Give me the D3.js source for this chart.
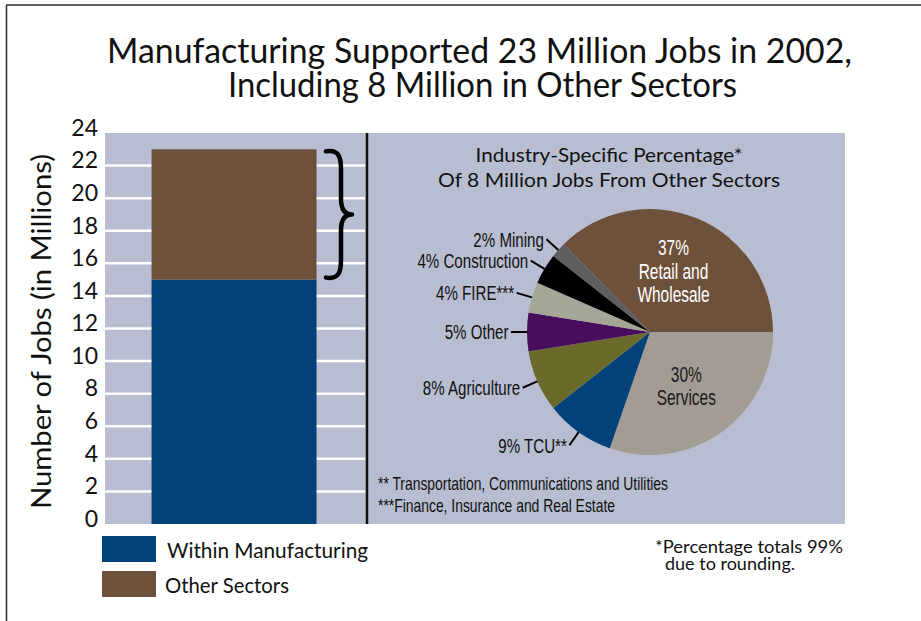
<!DOCTYPE html>
<html>
<head>
<meta charset="utf-8">
<script src="https://cdn.jsdelivr.net/npm/d3@7"></script>
<style>
  body { margin: 0; background: #fff; }
  svg { display: block; }
</style>
</head>
<body>
<svg id="chart" width="921" height="621"></svg>
<script>
// ---- Data ----
const yTicks = [0, 2, 4, 6, 8, 10, 12, 14, 16, 18, 20, 22, 24];
const barCategory = ["2002"];
const withinManufacturing = [15];   // millions of jobs
const otherSectors = [8];           // millions of jobs
const seriesNames = ["Within Manufacturing", "Other Sectors"];

// Sectors in clockwise order, starting at three o'clock
const sectorNames = ["Services", "TCU**", "Agriculture", "Other", "FIRE***", "Construction", "Mining", "Retail and Wholesale"];
const sectorPercents = [30, 9, 8, 5, 4, 4, 2, 37];
const insideSectors = ["Services", "Retail and Wholesale"];

const titleLines = ["Manufacturing Supported 23 Million Jobs in 2002,", "Including 8 Million in Other Sectors"];
const pieTitleLines = ["Industry-Specific Percentage*", "Of 8 Million Jobs From Other Sectors"];
const pieNotes = ["** Transportation, Communications and Utilities", "***Finance, Insurance and Real Estate"];
const totalNote = ["*Percentage totals 99%", "due to rounding."];

// ---- Styles ----
const seriesColors = ["#03417A", "#6E513A"];
const sectorColors = ["#A39C94", "#03417A", "#6A6A2B", "#4A0D5C", "#A4A797", "#000000", "#5E5E60", "#6E513A"];
const panelFill = "#B8BDD1";
const wideFont = "Lato, 'Open Sans', sans-serif";
const wideWeight = 400;
const narrowFont = "'Liberation Sans', Arial, sans-serif";
const narrowScale = 0.72;

const svg = d3.select("#chart");

// frame lines
svg.append("line").attr("x1", 6).attr("x2", 921).attr("y1", 5).attr("y2", 5)
  .attr("stroke", "#2a2a2a").attr("stroke-width", 1.5);
svg.append("line").attr("x1", 6.5).attr("x2", 6.5).attr("y1", 5).attr("y2", 621)
  .attr("stroke", "#2a2a2a").attr("stroke-width", 1.5);

// title
const titleStarts = [107, 228];
const titleWidths = [745, 509];
const titleBase = [63, 97];
titleLines.forEach((t, i) => {
  svg.append("text").text(t)
    .attr("x", titleStarts[i]).attr("y", titleBase[i])
    .attr("font-family", wideFont).attr("font-weight", wideWeight)
    .attr("font-size", 35).attr("fill", "#111")
    .attr("textLength", titleWidths[i]).attr("lengthAdjust", "spacingAndGlyphs");
});

// ---- Panel and scales ----
const panel = { left: 105, right: 845, top: 133, bottom: 524 };
const divX = 367;

svg.append("rect")
  .attr("x", panel.left).attr("y", panel.top)
  .attr("width", panel.right - panel.left).attr("height", panel.bottom - panel.top)
  .attr("fill", panelFill);

const y = d3.scaleLinear().domain([0, 24]).range([panel.bottom, panel.top]);
const x = d3.scaleBand().domain(barCategory)
  .range([panel.left, divX - 2]).paddingInner(0).paddingOuter(0.288).align(0.49);

// gridlines
svg.append("g").selectAll("line")
  .data(yTicks.filter(v => v > 0 && v < 24))
  .join("line")
  .attr("x1", panel.left).attr("x2", divX - 2)
  .attr("y1", d => y(d)).attr("y2", d => y(d))
  .attr("stroke", "#ffffff").attr("stroke-width", 2.5);

// stacked bar
const stackData = barCategory.map((c, i) => ({ cat: c, within: withinManufacturing[i], other: otherSectors[i] }));
const stacked = d3.stack().keys(["within", "other"])(stackData);
svg.append("g").selectAll("g")
  .data(stacked)
  .join("g")
  .attr("fill", (d, i) => seriesColors[i])
  .selectAll("rect")
  .data(d => d)
  .join("rect")
  .attr("x", d => x(d.data.cat))
  .attr("width", x.bandwidth())
  .attr("y", d => y(d[1]))
  .attr("height", d => y(d[0]) - y(d[1]));

// y axis
const gAxis = svg.append("g")
  .attr("transform", "translate(98,0)")
  .call(d3.axisLeft(y).tickValues(yTicks).tickSize(0).tickPadding(0));
gAxis.attr("font-family", null).attr("font-size", null);
gAxis.select(".domain").remove();
gAxis.selectAll("text")
  .attr("font-family", wideFont).attr("font-weight", wideWeight)
  .attr("font-size", 23).attr("fill", "#111")
  .attr("dy", "0.1em");

svg.append("text").text("Number of Jobs (in Millions)")
  .attr("transform", `translate(51,${(y(0) + y(24)) / 2 + 3}) rotate(-90)`)
  .attr("text-anchor", "middle")
  .attr("font-family", wideFont).attr("font-weight", wideWeight)
  .attr("font-size", 27).attr("fill", "#111")
  .attr("textLength", 355).attr("lengthAdjust", "spacingAndGlyphs");

// brace beside the other-sector segment
{
  const top = y(withinManufacturing[0] + otherSectors[0]) + 2;
  const bot = y(withinManufacturing[0]) - 2;
  const mid = (top + bot) / 2;
  const x0 = 326, xs = 341, xt = 352;
  const p = d3.path();
  p.moveTo(x0, top);
  p.bezierCurveTo(xs - 2, top - 2, xs, top + 6, xs, top + 18);
  p.lineTo(xs, mid - 16);
  p.bezierCurveTo(xs, mid - 6, xs + 3, mid, xt, mid);
  p.bezierCurveTo(xs + 3, mid, xs, mid + 6, xs, mid + 16);
  p.lineTo(xs, bot - 18);
  p.bezierCurveTo(xs, bot - 6, xs - 2, bot + 2, x0, bot);
  svg.append("path").attr("d", p.toString())
    .attr("fill", "none").attr("stroke", "#000").attr("stroke-width", 4.5)
    .attr("stroke-linecap", "round").attr("stroke-linejoin", "round");
}

// divider
svg.append("line").attr("x1", divX).attr("x2", divX)
  .attr("y1", panel.top).attr("y2", panel.bottom)
  .attr("stroke", "#111").attr("stroke-width", 2.5);

// ---- Pie ----
const pieTitleCx = 609;
const pieTitleWidths = [267, 342];
const pieTitleBase = [161.5, 186.5];
pieTitleLines.forEach((t, i) => {
  svg.append("text").text(t)
    .attr("x", pieTitleCx).attr("y", pieTitleBase[i])
    .attr("text-anchor", "middle")
    .attr("font-family", wideFont).attr("font-weight", wideWeight)
    .attr("font-size", 19).attr("fill", "#111")
    .attr("textLength", pieTitleWidths[i]).attr("lengthAdjust", "spacingAndGlyphs");
});

const pieCx = 650, pieCy = 332, pieR = 123;
const sectors = sectorNames.map((n, i) => ({ name: n, pct: sectorPercents[i], color: sectorColors[i] }));
const pie = d3.pie().sort(null).value(d => d.pct)
  .startAngle(Math.PI / 2).endAngle(Math.PI / 2 + 2 * Math.PI);
const arcs = pie(sectors);
const arc = d3.arc().innerRadius(0).outerRadius(pieR);
const edgeArc = d3.arc().innerRadius(pieR).outerRadius(pieR);
const leaderArc = d3.arc().innerRadius(139).outerRadius(139);
const insideArc = d3.arc().innerRadius(66).outerRadius(66);

const gPie = svg.append("g").attr("transform", `translate(${pieCx},${pieCy})`);
gPie.selectAll("path.slice")
  .data(arcs)
  .join("path")
  .attr("class", "slice")
  .attr("d", arc)
  .attr("fill", d => d.data.color);

// outside labels with leader lines
const outside = arcs.filter(d => !insideSectors.includes(d.data.name));
gPie.selectAll("line.leader")
  .data(outside)
  .join("line")
  .attr("class", "leader")
  .attr("x1", d => edgeArc.centroid(d)[0]).attr("y1", d => edgeArc.centroid(d)[1])
  .attr("x2", d => leaderArc.centroid(d)[0]).attr("y2", d => leaderArc.centroid(d)[1])
  .attr("stroke", "#000").attr("stroke-width", 2);
gPie.selectAll("g.outLabel")
  .data(outside)
  .join("g")
  .attr("class", "outLabel")
  .attr("transform", d => {
    const [lx, ly] = leaderArc.centroid(d);
    return `translate(${lx - 2.5},${ly}) scale(${narrowScale},1)`;
  })
  .append("text")
  .text(d => `${d.data.pct}% ${d.data.name}`)
  .attr("text-anchor", "end").attr("dy", "0.35em")
  .attr("font-family", narrowFont).attr("font-size", 21).attr("fill", "#111");

// inside labels
const inside = arcs.filter(d => insideSectors.includes(d.data.name));
const lineGap = 23.5;
inside.forEach(d => {
  const name = d.data.name;
  const cut = name.lastIndexOf(" ");
  const nameLines = name.includes(" and ") ? [name.slice(0, cut), name.slice(cut + 1)] : [name];
  const lines = [`${d.data.pct}%`, ...nameLines];
  const [cx, cy] = insideArc.centroid(d);
  const fill = name === "Services" ? "#1a1a1a" : "#ffffff";
  lines.forEach((t, i) => {
    const ly = cy + (i - (lines.length - 1) / 2) * lineGap;
    gPie.append("g")
      .attr("transform", `translate(${cx - 2},${ly}) scale(${narrowScale},1)`)
      .append("text").text(t)
      .attr("text-anchor", "middle").attr("dy", "0.35em")
      .attr("font-family", narrowFont).attr("font-size", 21.5).attr("fill", fill);
  });
});

// notes under the pie
const pieNoteWidths = [290, 237];
const pieNoteBase = [489.5, 511.5];
pieNotes.forEach((t, i) => {
  svg.append("text").text(t)
    .attr("x", 378).attr("y", pieNoteBase[i])
    .attr("font-family", narrowFont).attr("font-size", 18.5).attr("fill", "#111")
    .attr("textLength", pieNoteWidths[i]).attr("lengthAdjust", "spacingAndGlyphs");
});

// ---- Legend ----
const legendY = [536, 571];
const legendTextX = [167, 165];
const legendTextW = [201, 124];
const legendBase = [558, 593];
seriesNames.forEach((n, i) => {
  svg.append("rect").attr("x", 102).attr("y", legendY[i])
    .attr("width", 54).attr("height", 26).attr("fill", seriesColors[i]);
  svg.append("text").text(n)
    .attr("x", legendTextX[i]).attr("y", legendBase[i])
    .attr("font-family", wideFont).attr("font-weight", wideWeight)
    .attr("font-size", 22).attr("fill", "#111")
    .attr("textLength", legendTextW[i]).attr("lengthAdjust", "spacingAndGlyphs");
});

// rounding note
const noteX = [655, 665];
const noteW = [188, 130];
const noteBase = [553, 570];
totalNote.forEach((t, i) => {
  svg.append("text").text(t)
    .attr("x", noteX[i]).attr("y", noteBase[i])
    .attr("font-family", wideFont).attr("font-weight", wideWeight)
    .attr("font-size", 16.5).attr("fill", "#111")
    .attr("textLength", noteW[i]).attr("lengthAdjust", "spacingAndGlyphs");
});
</script>
</body>
</html>
